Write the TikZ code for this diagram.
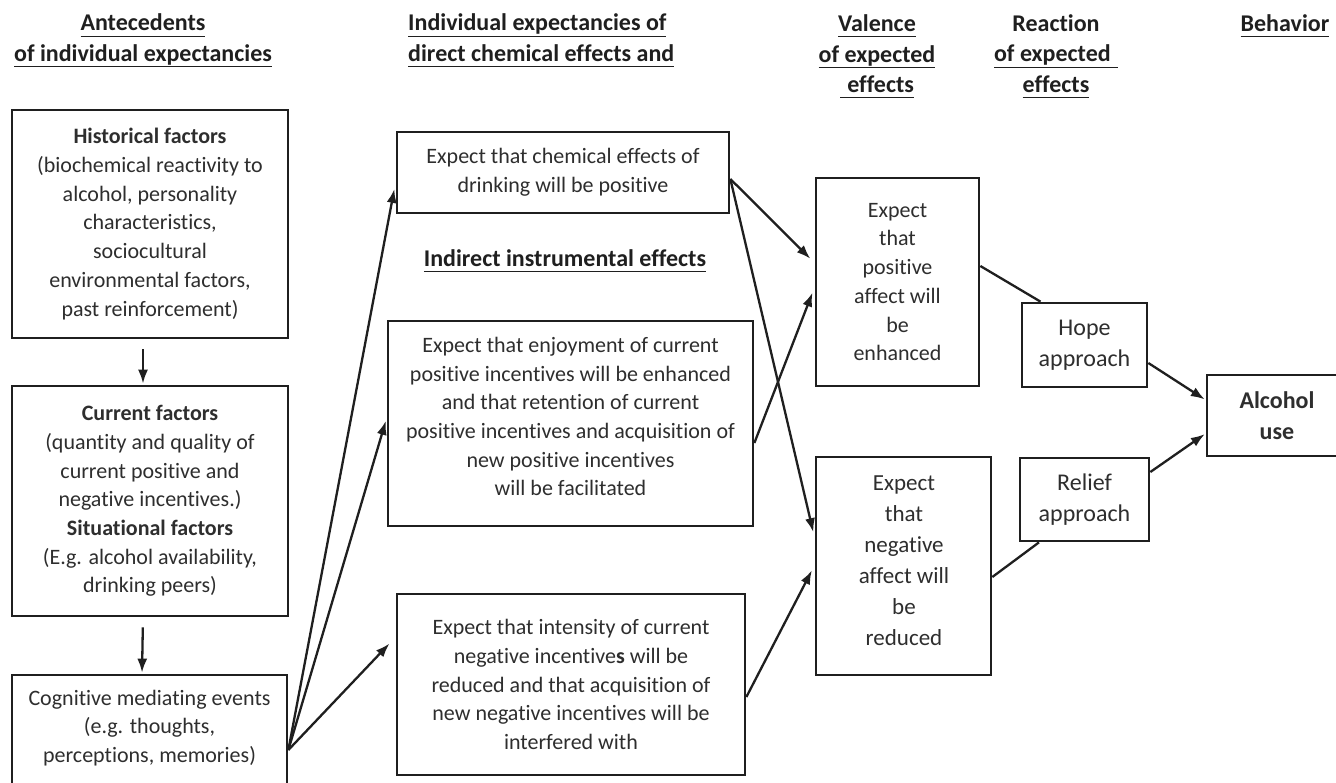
\documentclass[tikz,border=0pt]{standalone}
\usepackage{fontspec}
\setmainfont{Carlito}[RawFeature={-liga;-clig;-calt;-dlig}]
\usetikzlibrary{arrows.meta}
\newcommand\myfs{\fontsize{22}{28.7}\selectfont}
\newcommand\mybfs{\fontsize{24}{31}\selectfont}
\newcommand\myvfs{\fontsize{23}{31}\selectfont}
\newcommand\myhfs{\fontsize{24}{30.5}\selectfont}
\newcommand\myul[1]{\underline{#1\vphantom{(p}}}
\begin{document}
\begin{tikzpicture}[x=1pt,y=-1pt,
  box/.style={draw=black!88, line width=2.7pt, inner sep=0pt, align=center, font=\myfs, text=black!82},
  txt/.style={inner sep=0pt, align=center, font=\myfs, text=black!82},
  head/.style={inner sep=0pt, align=center, font=\myhfs\bfseries, text=black!88},
  conn/.style={draw=black!88, line width=2.3pt},
  arr/.style={conn, -{Latex[length=14pt,width=10pt]}}]
\clip (0,0) rectangle (1336,782);
\fill[white] (0,0) rectangle (1336,782);

% headers
\node[head] (h1) at (143,40) {\myul{Antecedents}\\\myul{of individual expectancies}};
\node[head, align=left, anchor=west] (h2) at (408,40) {\myul{Individual expectancies of}\\\myul{direct chemical effects and}};
\node[head] (h3) at (877,56) {\myul{Valence}\\\myul{of expected}\\\myul{\hspace{0.3em}effects}};
\node[head] (h4) at (1056,56) {Reaction\\\myul{of expected\hspace{0.3em}}\\\myul{effects}};
\node[head] (h5) at (1285,25) {\myul{Behavior}};
\node[head] (h6) at (565,260) {\myul{Indirect instrumental effects}};

% left column
\node[box, minimum width=276pt, minimum height=228pt] (hist) at (150,224)
  {\textbf{Historical factors}\\(biochemical reactivity to\\alcohol, personality\\characteristics,\\sociocultural\\environmental factors,\\past reinforcement)};
\node[box, minimum width=276pt, minimum height=230pt] (curr) at (150,501)
  {\textbf{Current factors}\\(quantity and quality of\\current positive and\\negative incentives.)\\\textbf{Situational factors}\\(E.g. alcohol availability,\\drinking peers)};
\node[box, minimum width=275pt, minimum height=125pt] (cog) at (149.5,737.5) {};
\node[txt] (cogtext) at (149.5,728) {Cognitive mediating events\\(e.g. thoughts,\\perceptions, memories)};

% middle column
\node[box, minimum width=332pt, minimum height=81pt] (chem) at (563,172.5)
  {Expect that chemical effects of\\drinking will be positive};
\node[box, minimum width=365pt, minimum height=205pt] (enjoy) at (570.5,423.5) {};
\node[txt] (enjoytext) at (570.5,416.5)
  {Expect that enjoyment of current\\positive incentives will be enhanced\\and that retention of current\\positive incentives and acquisition of\\new positive incentives\\will be facilitated};
\node[box, minimum width=348pt, minimum height=181pt] (neg) at (571,684.5)
  {Expect that intensity of current\\negative incentive\textbf{s} will be\\reduced and that acquisition of\\new negative incentives will be\\interfered with};

% valence
\node[box, minimum width=163pt, minimum height=208pt] (vpos) at (897.5,282)
  {Expect\\that\\positive\\affect will\\be\\enhanced};
\node[box, minimum width=175pt, minimum height=218pt] (vneg) at (903.5,566) {};
\node[txt, font=\myvfs] (vnegtext) at (904,560.5)
  {Expect\\that\\negative\\affect will\\be\\reduced};

% reaction
\node[box, minimum width=125pt, minimum height=84pt, font=\mybfs] (hope) at (1084.5,345) {Hope\\approach};
\node[box, minimum width=129pt, minimum height=83pt, font=\mybfs] (relief) at (1084.5,499.5) {Relief\\approach};

% behavior
\node[box, minimum width=140pt, minimum height=81pt, font=\mybfs\bfseries] (alc) at (1277,415.5) {Alcohol\\use};

% connectors
\draw[arr, shorten <=10pt, shorten >=1pt] ([xshift=-7pt]hist.south) -- ([xshift=-7pt]curr.north);
\draw[arr, shorten <=10pt, shorten >=1pt] ([xshift=-7pt]curr.south) -- ([xshift=-7.5pt]cog.north);

\draw[arr, shorten >=7pt] ([yshift=-12.5pt]cog.east) -- ([yshift=-9.5pt]chem.west);
\draw[arr, shorten >=3pt] ([yshift=-12.5pt]cog.east) -- ([yshift=5.5pt]enjoy.west);
\draw[arr, shorten >=9pt] ([yshift=-12.5pt]cog.east) -- ([yshift=47.5pt]neg.west);

\draw[arr, shorten >=6pt] ([yshift=-6.5pt]chem.east) -- ([yshift=19pt]vpos.west);
\draw[arr, shorten >=6pt] ([yshift=-6.5pt]chem.east) -- ([yshift=28pt]vneg.west);
\draw[arr, shorten >=6pt] ([yshift=-19.5pt]enjoy.east) -- ([yshift=-5pt]vpos.west);
\draw[arr, shorten >=6pt] ([yshift=-12.5pt]neg.east) -- ([yshift=1pt]vneg.west);

\draw[conn] ([yshift=16pt]vpos.east) -- ([xshift=-44pt]hope.north);
\draw[conn] ([yshift=-11pt]vneg.east) -- ([xshift=-45.5pt]relief.south);

\draw[arr, shorten >=1pt] ([yshift=-18pt]hope.east) -- ([yshift=15.5pt]alc.west);
\draw[arr, shorten >=1pt] ([yshift=27.5pt]relief.east) -- ([yshift=-18pt]alc.west);
\end{tikzpicture}
\end{document}
